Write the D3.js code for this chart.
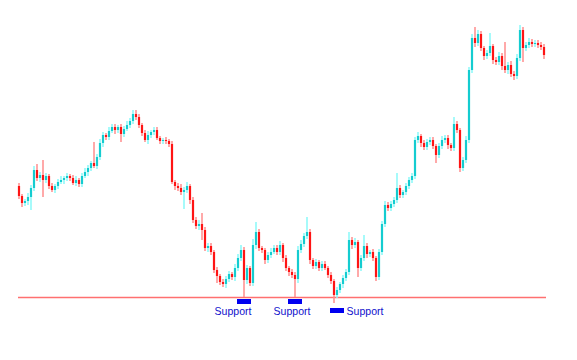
<!DOCTYPE html>
<html>
<head>
<meta charset="utf-8">
<script src="https://cdn.jsdelivr.net/npm/d3@7"></script>
<style>
  body { margin: 0; background: #fff; }
  svg { display: block; }
  .label { font-family: "Liberation Sans", Arial, sans-serif; font-size: 10.5px; fill: #1010cc; }
</style>
</head>
<body>
<div id="chart"></div>
<script>
// closing prices, one per candle (open = previous close)
var firstOpen = 214;
var closes = [
  204,197,199,203,212,230,222,225,220,224,
  214,210,214,218,220,222,224,222,217,220,
  216,224,228,232,237,234,243,257,265,263,
  269,273,270,273,266,271,275,279,286,283,
  275,267,260,265,268,270,262,259,260,259,
  256,218,214,212,208,210,214,200,180,174,
  176,170,152,154,148,130,124,118,116,121,
  126,123,132,142,150,120,132,117,155,168,
  152,150,140,145,148,152,148,155,142,132,
  128,125,121,150,156,164,168,140,134,138,
  132,136,132,125,119,105,110,116,122,128,
  160,155,158,132,142,154,146,148,142,123,
  148,176,195,192,196,200,212,205,208,214,
  220,224,260,264,257,253,258,260,254,245,
  254,260,262,255,252,276,270,232,240,260,
  330,362,357,366,352,344,347,354,340,338,
  344,334,330,335,326,324,342,370,352,355,
  358,356,357,355,353,345
];
// wick lengths above / below the body
var upWick = [
  3,2,2,4,3,4,6,3,15,3,
  2,3,2,3,4,2,3,2,3,4,
  2,3,4,3,2,21,3,4,3,2,
  4,3,3,2,3,3,4,3,4,4,
  3,2,3,4,2,3,3,2,2,3,
  2,3,2,3,4,3,4,2,3,3,
  4,11,3,3,3,2,3,2,3,3,
  3,2,4,4,5,3,3,2,6,10,
  3,2,2,3,4,3,3,4,2,3,
  2,3,3,4,4,3,15,3,2,3,
  2,3,3,2,3,2,3,2,3,3,
  8,3,4,2,3,11,3,2,3,2,
  3,3,4,3,3,3,15,3,2,3,
  3,3,3,4,2,3,3,3,3,2,
  3,4,3,3,2,7,3,2,3,4,
  3,4,11,4,3,2,3,13,2,3,
  4,3,24,3,4,3,4,5,3,3,
  4,3,3,3,3,3
];
var downWick = [
  3,4,3,4,13,3,3,4,17,3,
  3,2,3,3,2,4,3,3,2,3,
  3,3,2,4,3,2,3,3,4,3,
  3,2,4,3,8,3,2,3,3,3,
  3,3,2,4,3,3,2,3,3,3,
  3,2,4,3,3,17,3,4,3,3,
  4,10,3,4,3,3,7,3,3,4,
  3,3,4,3,3,17,4,3,3,4,
  3,3,4,3,3,2,3,3,4,3,
  4,3,18,4,3,3,3,4,3,3,
  3,3,2,3,3,8,3,3,4,3,
  3,4,3,9,3,3,4,3,3,4,
  3,3,3,3,3,3,3,3,3,3,
  3,3,3,3,4,3,3,3,3,8,
  3,3,3,4,3,3,3,4,3,3,
  3,3,4,3,3,4,3,3,4,3,
  3,4,3,4,3,4,3,3,14,3,
  3,3,3,3,3,4
];
var supportLevel = 103;
var supportIdx = [75, 92, 105];   // candles that touch support
var supportLabels = ["Support", "Support", "Support"];

var candles = closes.map(function(c, i){
  var o = i == 0 ? firstOpen : closes[i-1];
  return {
    i: i, open: o, close: c,
    high: Math.max(o, c) + upWick[i],
    low: Math.min(o, c) - downWick[i]
  };
});

var w = 577, h = 360;
var svg = d3.select("#chart").append("svg")
  .attr("width", w)
  .attr("height", h);

var x = d3.scaleLinear()
  .domain([0, closes.length - 1])
  .range([19, 544]);

var y = d3.scaleLinear()
  .domain([100, 380])
  .range([300, 20]);

// support line
svg.append("line")
  .attr("x1", 18).attr("x2", 546)
  .attr("y1", y(supportLevel) + 0.5).attr("y2", y(supportLevel) + 0.5)
  .style("stroke", "#ff7070")
  .style("stroke-width", 1.4);

var g = svg.selectAll(".candle")
  .data(candles)
  .enter()
    .append("g")
    .attr("class", "candle");

g.append("line")
  .attr("x1", function(d){ return x(d.i) })
  .attr("x2", function(d){ return x(d.i) })
  .attr("y1", function(d){ return y(d.high) })
  .attr("y2", function(d){ return y(d.low) })
  .style("stroke", function(d){ return d.close >= d.open ? "#88f8f8" : "#ff8c8c" })
  .style("stroke-width", 1.5);

g.append("rect")
  .attr("x", function(d){ return x(d.i) - 1.1 })
  .attr("width", 2.2)
  .attr("y", function(d){ return y(Math.max(d.open, d.close)) })
  .attr("height", function(d){ return Math.max(1, Math.abs(y(d.open) - y(d.close))) })
  .style("fill", function(d){ return d.close >= d.open ? "#14ccd0" : "#ff1414" });

// support markers and labels
var markerY = [299, 299, 308];
var markerDx = [-7, -7, -4];
var labelX = [233, 292, 365];

supportIdx.forEach(function(k, j){
  svg.append("rect")
    .attr("x", x(k) + markerDx[j])
    .attr("y", markerY[j])
    .attr("width", 14)
    .attr("height", 5)
    .style("fill", "#0000f0");
  svg.append("text")
    .attr("class", "label")
    .attr("x", labelX[j])
    .attr("y", 315)
    .style("text-anchor", "middle")
    .text(supportLabels[j]);
});
</script>
</body>
</html>
